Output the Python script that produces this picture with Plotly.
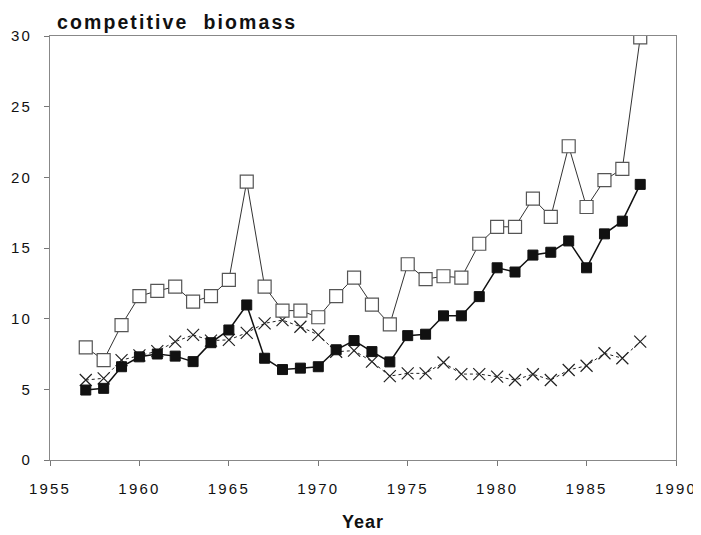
import plotly.graph_objects as go

years = list(range(1957, 1989))

open_sq = [7.97, 7.07, 9.55, 11.6, 11.96, 12.27, 11.2, 11.6, 12.74, 19.7,
           12.27, 10.57, 10.57, 10.1, 11.6, 12.9, 11.0, 9.6, 13.85, 12.8,
           13.0, 12.9, 15.3, 16.5, 16.5, 18.5, 17.2, 22.2, 17.9, 19.8,
           20.6, 29.9]

filled_sq = [4.95, 5.07, 6.6, 7.3, 7.5, 7.35, 6.96, 8.3, 9.2, 10.97,
             7.2, 6.4, 6.5, 6.6, 7.8, 8.45, 7.67, 6.94, 8.8, 8.9,
             10.2, 10.2, 11.56, 13.6, 13.3, 14.5, 14.7, 15.5, 13.6, 16.0,
             16.9, 19.5]

cross = [5.66, 5.78, 7.07, 7.4, 7.7, 8.37, 8.85, 8.45, 8.5, 9.0,
         9.67, 9.9, 9.43, 8.85, 7.66, 7.74, 6.96, 5.94, 6.13, 6.13,
         6.9, 6.08, 6.08, 5.9, 5.66, 6.07, 5.66, 6.37, 6.67, 7.55,
         7.2, 8.37]

x_ticks = [1955, 1960, 1965, 1970, 1975, 1980, 1985, 1990]
y_ticks = [0, 5, 10, 15, 20, 25, 30]

title_text = "competitive  biomass"
x_title = "Year"

FONT = "Liberation Sans, Arial, sans-serif"

def spaced(s, sp="1.5px"):
    return f'<span style="letter-spacing:{sp}">{s}</span>'

fig = go.Figure()

fig.add_trace(go.Scatter(
    x=years, y=cross, mode="lines+markers",
    line=dict(color="#222", width=1, dash="3px,3px"),
    marker=dict(symbol="x-thin", size=12, line=dict(color="#222", width=1.2)),
    showlegend=False))

fig.add_trace(go.Scatter(
    x=years, y=filled_sq, mode="lines+markers",
    line=dict(color="#111", width=1.5),
    marker=dict(symbol="square", size=10, color="#111",
                line=dict(color="#111", width=1)),
    showlegend=False))

fig.add_trace(go.Scatter(
    x=years, y=open_sq, mode="lines+markers",
    line=dict(color="#333", width=1),
    marker=dict(symbol="square", size=13, color="white",
                line=dict(color="#555", width=1.2)),
    showlegend=False))

fig.update_layout(
    width=693, height=527,
    margin=dict(l=42, r=25, t=28, b=75, autoexpand=False),
    paper_bgcolor="white", plot_bgcolor="white",
    font=dict(family=FONT, color="#111"),
    annotations=[dict(
        text="<b>" + spaced(title_text, "2.1px") + "</b>",
        xref="paper", yref="paper", x=0.0, y=1.0, xanchor="left", yanchor="bottom",
        xshift=5, yshift=1, showarrow=False,
        font=dict(size=19.5, family=FONT, color="#111"))],
)

fig.update_xaxes(
    range=[1955, 1990], tickvals=x_ticks,
    ticktext=[spaced(str(v), "2.2px") for v in x_ticks],
    ticks="outside", ticklen=5, tickcolor="#777", tickwidth=1,
    showline=True, linecolor="#888", linewidth=1, mirror=True,
    showgrid=False, zeroline=False, automargin=False,
    tickfont=dict(size=15, family=FONT, color="#111"),
    ticklabelstandoff=10,
    title=dict(text="<b>" + spaced(x_title, "1px") + "</b>",
               font=dict(size=18, family=FONT, color="#111"), standoff=19),
)

fig.update_yaxes(
    range=[0, 30], tickvals=y_ticks,
    ticktext=[spaced(str(v), "2.2px") for v in y_ticks],
    ticks="outside", ticklen=5, tickcolor="#777", tickwidth=1,
    showline=True, linecolor="#888", linewidth=1, mirror=True,
    showgrid=False, zeroline=False, automargin=False,
    tickfont=dict(size=15, family=FONT, color="#111"),
    ticklabelstandoff=9,
)

fig.write_html("out.html")
